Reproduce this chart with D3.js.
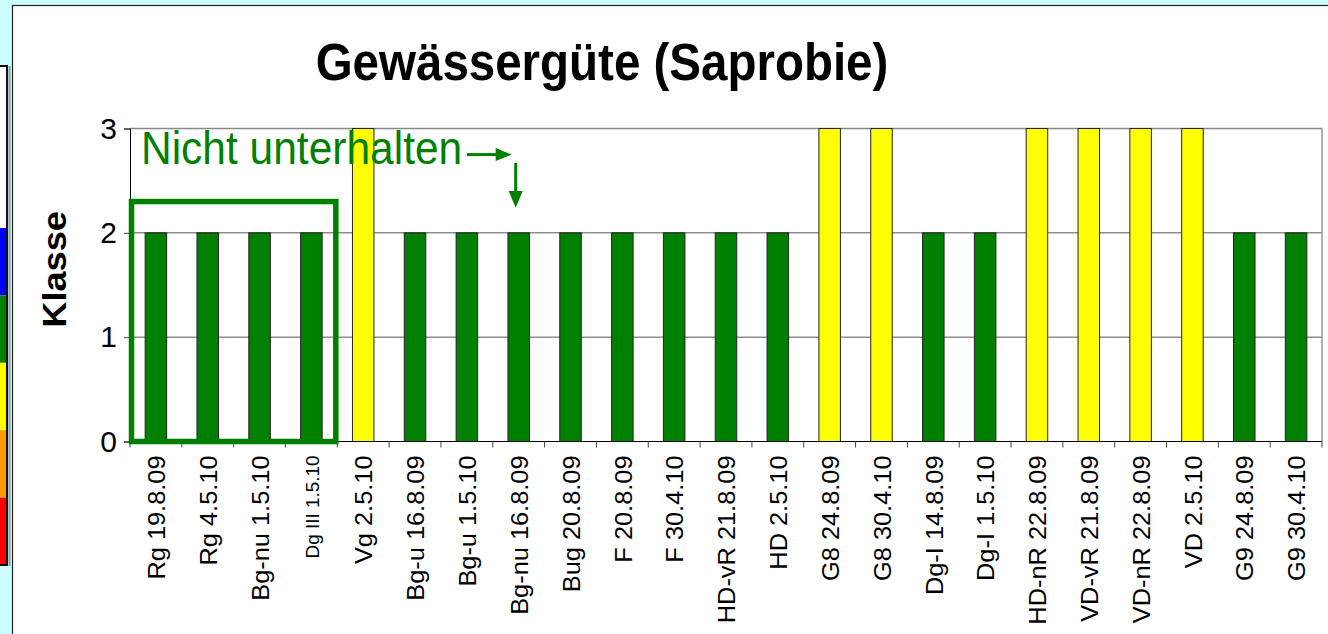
<!DOCTYPE html>
<html>
<head>
<meta charset="utf-8">
<script src="https://cdn.jsdelivr.net/npm/d3@7"></script>
<style>
  body { margin: 0; background: #ccffff; overflow: hidden; }
  svg { display: block; font-family: Arial, "Liberation Sans", sans-serif; }
</style>
</head>
<body>
<div id="chart"></div>
<script>
let w = 1328
let h = 634

// Gewässergüte (Saprobie) per Probestelle / Datum
let categories = [
	"Rg 19.8.09", "Rg 4.5.10", "Bg-nu 1.5.10", "Dg III 1.5.10", "Vg 2.5.10",
	"Bg-u 16.8.09", "Bg-u 1.5.10", "Bg-nu 16.8.09", "Bug 20.8.09", "F 20.8.09",
	"F 30.4.10", "HD-vR 21.8.09", "HD 2.5.10", "G8 24.8.09", "G8 30.4.10",
	"Dg-I 14.8.09", "Dg-I 1.5.10", "HD-nR 22.8.09", "VD-vR 21.8.09", "VD-nR 22.8.09",
	"VD 2.5.10", "G9 24.8.09", "G9 30.4.10"
]
let values = [2, 2, 2, 2, 3, 2, 2, 2, 2, 2, 2, 2, 2, 3, 3, 2, 2, 3, 3, 3, 3, 2, 2]
let yTicks = [0, 1, 2, 3]
// Güteklassen 1..5
let classes = [1, 2, 3, 4, 5]
let classColors = ["#0000ff", "#008000", "#ffff00", "#ff9900", "#ff0000"]
let unmaintained = ["Rg 19.8.09", "Rg 4.5.10", "Bg-nu 1.5.10", "Dg III 1.5.10"]
let arrowTarget = "Bg-nu 16.8.09"

let pLeft = 130, pRight = 1322, pTop = 128.5, pBottom = 441.5
let stretch = 1.08 // the slide is a little taller than wide

let svg = d3.select("#chart").append("svg")
	.attr("width", w)
	.attr("height", h)

// white slide panel
svg.append("rect")
	.attr("x", 12.5).attr("y", 5.5)
	.attr("width", w).attr("height", h)
	.attr("fill", "#fff")
	.attr("stroke", "#222")
	.attr("stroke-width", 1.2)

// colour strip at the far left (partly cut off)
let strip = d3.scaleBand().domain(classes).range([228, 565])
svg.append("rect")
	.attr("x", 8.5).attr("y", 66).attr("width", 2).attr("height", 500)
	.attr("fill", "#999")
svg.append("rect")
	.attr("x", -5).attr("y", 66).attr("width", 12).attr("height", 162)
	.attr("fill", "#fff")
svg.selectAll(".strip")
	.data(classes)
	.join("rect")
	.attr("x", -5)
	.attr("y", d => strip(d))
	.attr("width", 12)
	.attr("height", strip.bandwidth())
	.attr("fill", d => classColors[d - 1])
svg.append("rect")
	.attr("x", -5).attr("y", 66).attr("width", 12).attr("height", 499)
	.attr("fill", "none").attr("stroke", "#111").attr("stroke-width", 2)

let x = d3.scaleBand()
	.domain(categories)
	.range([pLeft, pRight])
	.paddingInner(0.585)
	.paddingOuter(0.2925)

let y = d3.scaleLinear()
	.domain([0, 3])
	.range([pBottom, pTop])

let color = d => classColors[d - 1]

// title
svg.append("text")
	.attr("transform", "translate(602,80) scale(1," + stretch + ")")
	.attr("text-anchor", "middle")
	.attr("font-size", 47.5)
	.attr("font-weight", "bold")
	.text("Gewässergüte (Saprobie)")

// gridlines
svg.selectAll(".grid")
	.data(yTicks.filter(d => d > 0))
	.join("line")
	.attr("x1", pLeft).attr("x2", pRight)
	.attr("y1", d => y(d)).attr("y2", d => y(d))
	.attr("stroke", d => d == 3 ? "#888" : "#555")
	.attr("stroke-width", d => d == 3 ? 1.5 : 1)

// right border of plot area
svg.append("line")
	.attr("x1", pRight).attr("x2", pRight)
	.attr("y1", pTop).attr("y2", pBottom)
	.attr("stroke", "#999").attr("stroke-width", 1.5)

// bars
svg.selectAll(".bar")
	.data(categories)
	.join("rect")
	.attr("x", d => x(d))
	.attr("y", (d, i) => y(values[i]))
	.attr("width", x.bandwidth())
	.attr("height", (d, i) => y(0) - y(values[i]))
	.attr("fill", (d, i) => color(values[i]))
	.attr("stroke", "#222")
	.attr("stroke-width", 1)

// y axis
let yAxis = d3.axisLeft(y).tickValues(yTicks).tickFormat(d3.format("d")).tickSize(6)
let gy = svg.append("g")
	.attr("transform", "translate(" + pLeft + ",0)")
	.call(yAxis)
gy.select(".domain").attr("stroke", "#000")
gy.selectAll(".tick line").attr("stroke", "#444")
gy.selectAll(".tick text")
	.attr("x", -13)
	.attr("font-size", 30)
	.attr("font-family", "Arial, 'Liberation Sans', sans-serif")
	.attr("fill", "#000")

// x axis: ticks between the categories
let step = x.step()
let edges = d3.range(categories.length + 1).map(i => pLeft + i * step)
svg.append("line")
	.attr("x1", pLeft).attr("x2", pRight)
	.attr("y1", pBottom).attr("y2", pBottom)
	.attr("stroke", "#000")
svg.selectAll(".xtick")
	.data(edges)
	.join("line")
	.attr("x1", d => d).attr("x2", d => d)
	.attr("y1", pBottom).attr("y2", pBottom + 6)
	.attr("stroke", "#444")

svg.selectAll(".xlabel")
	.data(categories)
	.join("text")
	.attr("transform", d => "translate(" + (x(d) + x.bandwidth() / 2 + 1) + "," + (pBottom + 14) + ") rotate(-90) scale(" + stretch + ",1)")
	.attr("text-anchor", "end")
	.attr("dy", "0.35em")
	.attr("font-size", d => d == "Dg III 1.5.10" ? 17.5 : 23.5)
	.text(d => d)

// axis title
svg.append("text")
	.attr("transform", "translate(54," + y(1.65) + ") rotate(-90) scale(" + stretch + ",1)")
	.attr("text-anchor", "middle")
	.attr("dy", "0.35em")
	.attr("font-size", 33.5)
	.attr("font-weight", "bold")
	.text("Klasse")

// annotation: not maintained
let green = classColors[1]
let bx0 = x(unmaintained[0]) - x.step() * x.paddingOuter() + 1.5
let bx1 = x(unmaintained[unmaintained.length - 1]) + x.bandwidth() + x.step() * x.paddingInner() / 2 - 1.5
svg.append("rect")
	.attr("x", bx0)
	.attr("y", y(2.3))
	.attr("width", bx1 - bx0)
	.attr("height", y(0) - y(2.3))
	.attr("fill", "none")
	.attr("stroke", green)
	.attr("stroke-width", 5.5)

svg.append("text")
	.attr("transform", "translate(141,164) scale(1," + stretch + ")")
	.attr("font-size", 42.5)
	.attr("fill", green)
	.text("Nicht unterhalten")

let ax = x(arrowTarget) + x.bandwidth() / 2 - 3
let ay = y(2.75)
svg.append("line")
	.attr("x1", 467).attr("x2", ax - 18)
	.attr("y1", ay).attr("y2", ay)
	.attr("stroke", green).attr("stroke-width", 3)
svg.append("path")
	.attr("d", "M" + (ax - 20) + "," + (ay - 6.5) + "L" + (ax - 4) + "," + ay + "L" + (ax - 20) + "," + (ay + 6.5) + "Z")
	.attr("fill", green)
svg.append("line")
	.attr("x1", ax).attr("x2", ax)
	.attr("y1", y(2.67)).attr("y2", y(2.35))
	.attr("stroke", green).attr("stroke-width", 3)
svg.append("path")
	.attr("d", "M" + (ax - 7) + "," + y(2.4) + "L" + ax + "," + y(2.24) + "L" + (ax + 7) + "," + y(2.4) + "Z")
	.attr("fill", green)
</script>
</body>
</html>
